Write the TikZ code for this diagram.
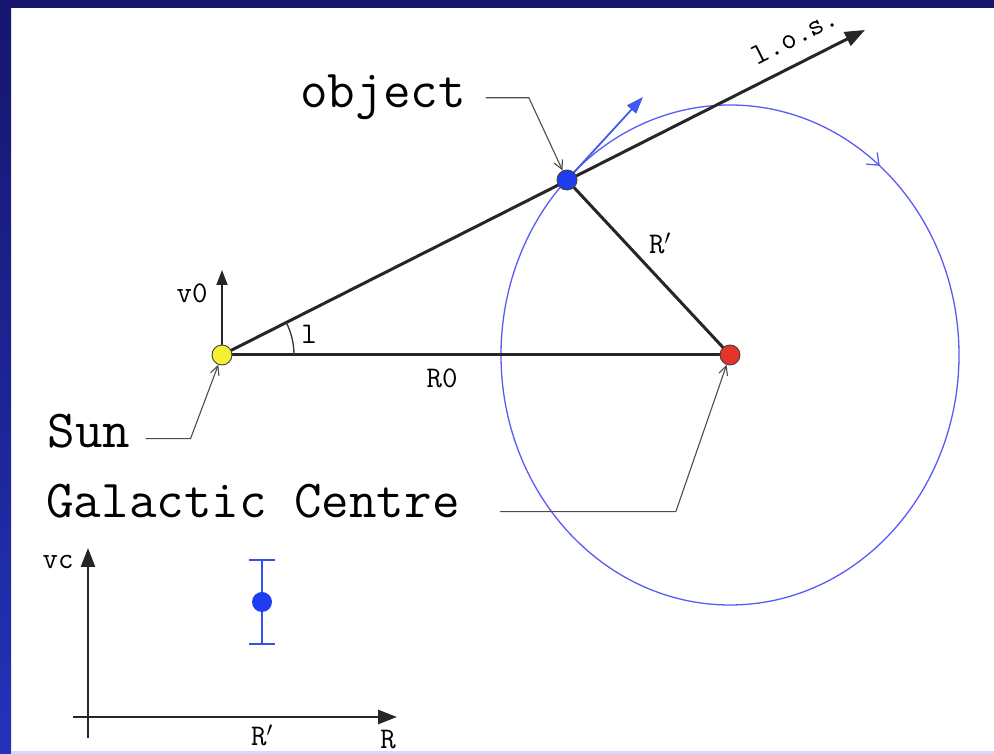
\documentclass[tikz,border=0pt]{standalone}
\usetikzlibrary{arrows.meta,decorations.markings}
\definecolor{framenavy}{RGB}{22,22,110}
\definecolor{frameblue}{RGB}{35,50,185}
\definecolor{orbitblue}{RGB}{90,90,245}
\definecolor{objblue}{RGB}{30,60,240}
\definecolor{sunyellow}{RGB}{245,240,50}
\definecolor{gcred}{RGB}{230,50,40}
\begin{document}
\begin{tikzpicture}[x=1pt,y=1pt,
  big/.style={font=\fontsize{53.5}{58}\selectfont\ttfamily,inner sep=0pt},
  small/.style={font=\fontsize{30}{34}\selectfont\ttfamily,inner sep=0pt},
  dot/.style={circle,draw=black!75,line width=0.9pt,minimum size=20pt,inner sep=0pt},
  rod/.style={line width=3pt,black!85},
  pointer/.style={line width=1.1pt,black!70,-{Straight Barb[length=9pt,width=9pt]}},
  axis/.style={line width=2.6pt,black!85,-{Triangle[length=19pt,width=14pt]}}]
\useasboundingbox (0,0) rectangle (994,754);
% frame
\shade[top color=framenavy,bottom color=frameblue] (0,0) rectangle (11,754);
\fill[framenavy] (0,746) rectangle (994,754);
\fill[blue!15] (11,0) rectangle (994,3);
% geometry
\coordinate (sun) at (222,399);
\coordinate (gc) at (730,399);
\coordinate (obj) at (567,574);
\coordinate (lostip) at (865,724);
\coordinate (v0tip) at (222,484);
\coordinate (veltip) at (643,657);
\draw[orbitblue,line width=1.3pt,postaction={decorate},
  decoration={markings,mark=at position 0.14 with {\arrowreversed{Straight Barb[length=10pt,width=16pt]}}}]
  (gc) ellipse [x radius=229,y radius=250];
\draw[rod,-{Triangle[length=20pt,width=15pt]}] (sun) -- (lostip);
\draw[rod] (sun) -- (gc);
\draw[rod] (obj) -- (gc);
\draw[line width=1.7pt,black!85,-{Triangle[length=15pt,width=11pt]}] (sun) -- (v0tip);
\draw[line width=1.3pt,black!80] ([shift={(0:72)}]sun) arc[start angle=0,end angle=27,radius=72];
\draw[objblue!85,line width=1.8pt,-{Triangle[length=17pt,width=12pt]}] (obj) -- (veltip);
\node[dot,fill=sunyellow] (sundot) at (sun) {};
\node[dot,fill=gcred] (gcdot) at (gc) {};
\node[dot,fill=objblue] (objdot) at (obj) {};
% labels
\node[small,rotate=27] (loslab) at (795,718) {l.o.s.};
\node[small] (r0lab) at (442,376) {R0};
\node[small] (rplab) at (660,511) {R$'$};
\node[small] (v0lab) at (192,461) {v0};
\node[small] (anglab) at (309,420) {l};
\node[big,anchor=base] (objlab) at (383,646) {object};
\node[big,anchor=base] (sunlab) at (89,306) {Sun};
\node[big,anchor=base] (gclab) at (253,236) {Galactic Centre};
\draw[pointer] ([xshift=20pt]objlab.east) -- ++(43,0) -- (objdot);
\draw[pointer] ([xshift=15pt,yshift=-7pt]sunlab.east) -- ++(45,0) -- (sundot);
\draw[pointer] ([xshift=40pt,yshift=-10pt]gclab.east) -- ++(176,0) -- (gcdot);
% inset plot
\coordinate (xstart) at (73,37);
\coordinate (xtip) at (397,37);
\coordinate (ystart) at (88,16);
\coordinate (ytip) at (88,206);
\draw[axis] (xstart) -- (xtip);
\draw[axis] (ystart) -- (ytip);
\node[small] (vclab) at (58,192) {vc};
\node[small] (rpxlab) at (262,19) {R$'$};
\node[small] (rlab) at (388,14) {R};
\coordinate (ebtop) at (262,194);
\coordinate (ebbot) at (262,110);
\draw[objblue!90,line width=2.2pt] (ebtop) -- (ebbot);
\draw[objblue!90,line width=2.2pt] ([xshift=-13pt]ebtop) -- ([xshift=13pt]ebtop);
\draw[objblue!90,line width=2.2pt] ([xshift=-13pt]ebbot) -- ([xshift=13pt]ebbot);
\node[circle,fill=objblue,minimum size=20pt,inner sep=0pt] (datum) at (262,152) {};
\end{tikzpicture}
\end{document}
